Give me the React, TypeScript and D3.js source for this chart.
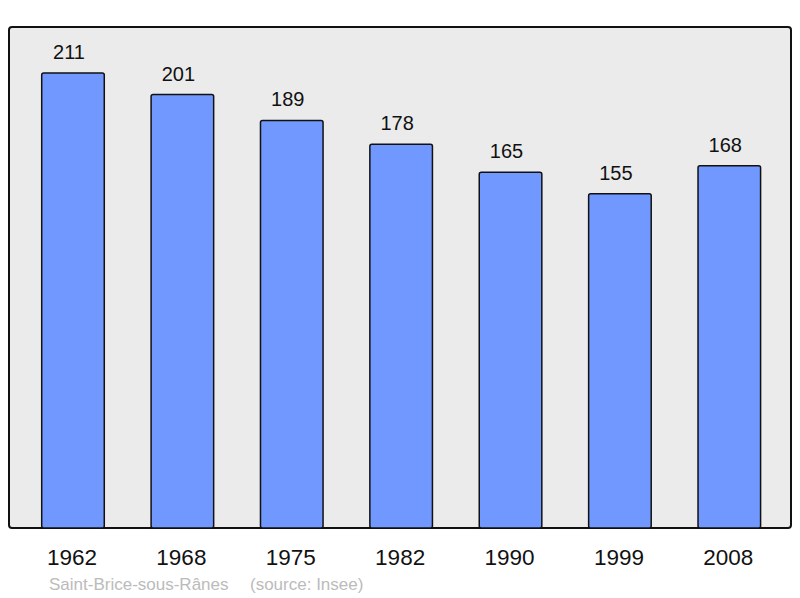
import React from "react";
import * as d3 from "d3";

const years = ["1962", "1968", "1975", "1982", "1990", "1999", "2008"];
const population = [211, 201, 189, 178, 165, 155, 168];
const footerName = "Saint-Brice-sous-Rânes";
const footerSource = "(source: Insee)";

export default function App() {
  const W = 800, H = 598;
  const frame = { x0: 9, y0: 27, x1: 791, y1: 528 };
  const x = d3.scaleBand<string>().domain(years).range([18.3, 784]).paddingInner(0.428).paddingOuter(0.214);
  const y = d3.scaleLinear().domain([0, 211 * 501 / 455]).range([frame.y1, frame.y0]);
  const font = "'Liberation Sans', Arial, sans-serif";
  return (
    <svg width={W} height={H} style={{ position: "absolute", left: 0, top: 0 }}>
      <rect x={frame.x0} y={frame.y0} width={frame.x1 - frame.x0} height={frame.y1 - frame.y0}
        rx={3} fill="#ebebeb" stroke="#111" strokeWidth={2} />
      {years.map((yr, i) => {
        const v = population[i];
        const bx = x(yr)!;
        return (
          <g key={yr}>
            <rect x={bx} y={y(v)} width={x.bandwidth()} height={frame.y1 - y(v)} rx={2}
              fill="#7098ff" stroke="#111" strokeWidth={1.5} />
            <text x={bx + x.bandwidth() / 2 - 4} y={y(v) - 14} textAnchor="middle" fontFamily={font}
              fontSize={20} fill="#111">{v}</text>
            <text x={bx + x.bandwidth() / 2 - 1} y={565} textAnchor="middle" fontFamily={font}
              fontSize={22.5} fill="#111">{yr}</text>
          </g>
        );
      })}
      <text x={49} y={590} fontFamily={font} fontSize={17} fill="#bbb">{footerName}</text>
      <text x={250} y={590} fontFamily={font} fontSize={17} fill="#bbb">{footerSource}</text>
    </svg>
  );
}
